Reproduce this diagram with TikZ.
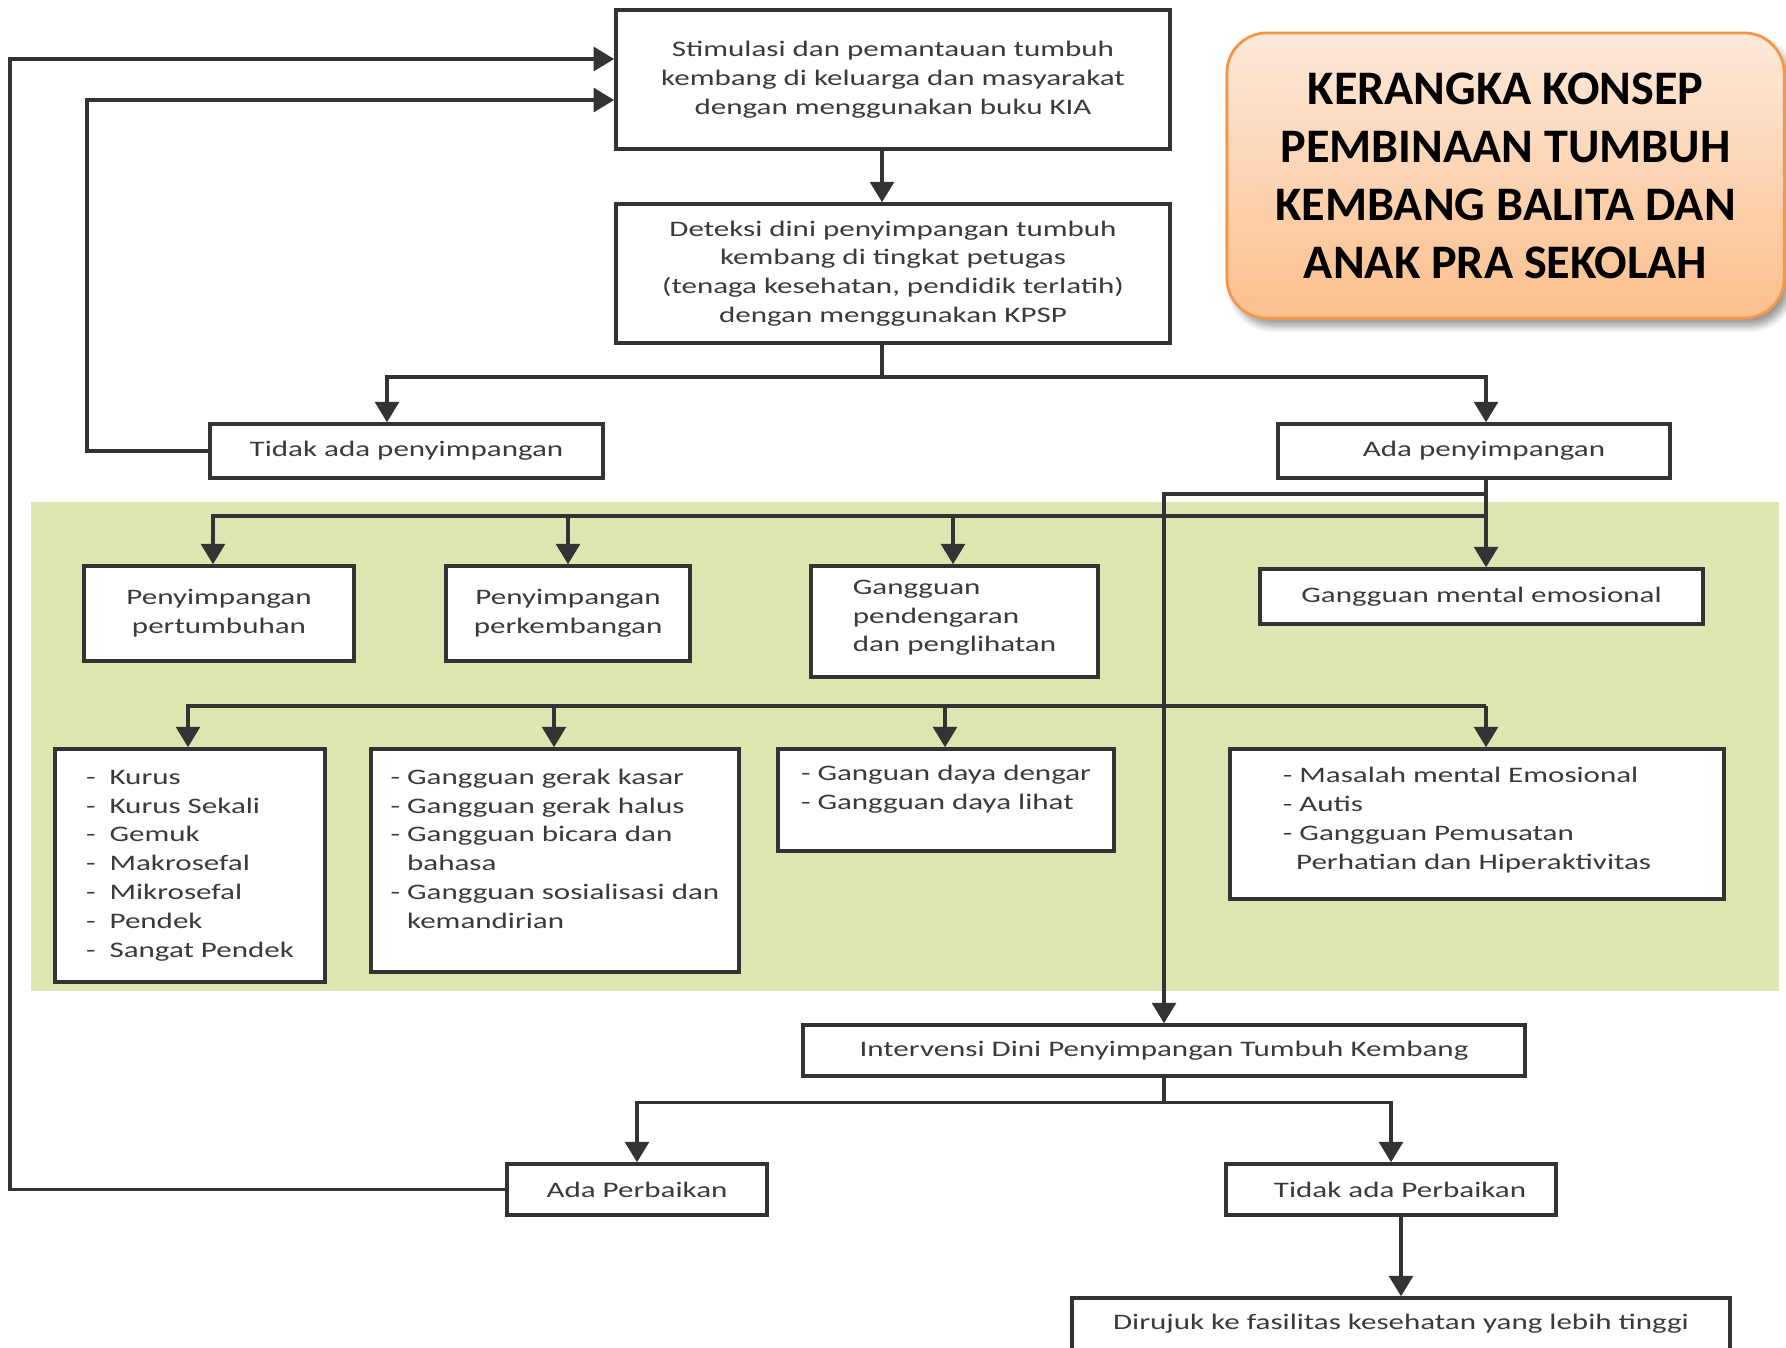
\documentclass[tikz,border=0pt]{standalone}
\usepackage{fontspec}
\setmainfont{Carlito}[FakeStretch=1.4]
\newfontfamily\judulfont{Carlito}
\usepackage{xcolor}
\usetikzlibrary{arrows.meta,shadows.blur}
\definecolor{garis}{HTML}{333333}
\definecolor{teks}{HTML}{3A3A3A}
\definecolor{hijau}{HTML}{DCE6B1}
\definecolor{oranye}{HTML}{F79646}
\definecolor{persikA}{HTML}{FDE9DA}
\definecolor{persikB}{HTML}{FBBF8C}
\newcommand{\isi}{\fontsize{6.3}{8.2}\selectfont}
\newcommand{\angkat}[1]{\rule[-#1]{0pt}{#1}}
\tikzset{
  kotak/.style={draw=garis, line width=1pt, fill=white, inner sep=0pt, text=teks, align=center, font=\isi},
  daftar/.style={kotak, align=left},
  garisan/.style={draw=garis, line width=0.9pt},
  panah/.style={garisan, -{Triangle[width=6.8pt,length=5.8pt]}},
  judul/.style={draw=oranye, line width=0.8pt, rounded corners=0.4cm, top color=persikA, bottom color=persikB,
    blur shadow={shadow xshift=0.6mm, shadow yshift=-0.8mm, shadow blur steps=6},
    align=center, font=\judulfont\bfseries\fontsize{13.7}{16.5}\selectfont},
}

\begin{document}
\begin{tikzpicture}[x=0.01cm, y=-0.01cm]
  \useasboundingbox (0,0) rectangle (1786,1347);
  \fill[hijau] (31,502) rectangle (1779,991);

  \node[kotak, minimum width=5.54cm, minimum height=1.39cm] (stim) at (893,79.5)
    {Stimulasi dan pemantauan tumbuh\\kembang di keluarga dan masyarakat\\dengan menggunakan buku KIA};
  \node[kotak, minimum width=5.54cm, minimum height=1.39cm] (deteksi) at (893,273.5)
    {Deteksi dini penyimpangan tumbuh\\kembang di tingkat petugas\\(tenaga kesehatan, pendidik terlatih)\\dengan menggunakan KPSP};
  \node[kotak, minimum width=3.93cm, minimum height=0.54cm] (tidak) at (406.5,451) {Tidak ada penyimpangan};
  \node[kotak, minimum width=3.92cm, minimum height=0.54cm] (ada) at (1474,451) {\hspace*{0.2cm}Ada penyimpangan};

  \node[kotak, minimum width=2.70cm, minimum height=0.95cm] (pertumbuhan) at (219,613.5) {Penyimpangan\\pertumbuhan};
  \node[kotak, minimum width=2.44cm, minimum height=0.95cm] (perkembangan) at (568,613.5) {Penyimpangan\\perkembangan};
  \node[daftar, minimum width=2.87cm, minimum height=1.11cm] (dengar) at (954.5,621.5) {Gangguan\\pendengaran\\dan penglihatan\angkat{3.2pt}};
  \node[kotak, minimum width=4.43cm, minimum height=0.55cm] (mental) at (1481.5,596.5) {Gangguan mental emosional};

  \node[daftar, minimum width=2.70cm, minimum height=2.33cm] (kurus) at (190,865.5)
    {-~~Kurus\\-~~Kurus Sekali\\-~~Gemuk\\-~~Makrosefal\\-~~Mikrosefal\\-~~Pendek\\-~~Sangat Pendek};
  \node[daftar, minimum width=3.68cm, minimum height=2.23cm] (gerak) at (555,860.5)
    {- Gangguan gerak kasar\\- Gangguan gerak halus\\- Gangguan bicara dan\\\hphantom{-~}bahasa\\- Gangguan sosialisasi dan\\\hphantom{-~}kemandirian\angkat{6.8pt}};
  \node[daftar, minimum width=3.36cm, minimum height=1.02cm] (daya) at (946,800)
    {- Ganguan daya dengar\\- Gangguan daya lihat\angkat{7pt}};
  \node[daftar, minimum width=4.94cm, minimum height=1.50cm] (masalah) at (1477,824)
    {- Masalah mental Emosional\\- Autis\\- Gangguan Pemusatan\\\hphantom{-}\,Perhatian dan Hiperaktivitas\hspace{0.2cm}\angkat{3.4pt}};

  \node[kotak, minimum width=7.22cm, minimum height=0.51cm] (interv) at (1164,1050.5) {Intervensi Dini Penyimpangan Tumbuh Kembang};
  \node[kotak, minimum width=2.60cm, minimum height=0.51cm] (adap) at (637,1189.5) {Ada Perbaikan};
  \node[kotak, minimum width=3.30cm, minimum height=0.51cm] (tidakp) at (1391,1189.5) {\hspace*{0.18cm}Tidak ada Perbaikan};
  \node[kotak, minimum width=6.58cm, minimum height=0.52cm] (dirujuk) at (1401,1324) {Dirujuk ke fasilitas kesehatan yang lebih tinggi};

  \node[judul, minimum width=5.57cm, minimum height=2.85cm] (kepala) at (1505.5,175.5)
    {KERANGKA KONSEP\\PEMBINAAN TUMBUH\\KEMBANG BALITA DAN\\ANAK PRA SEKOLAH};

  \draw[panah] (stim.south -| 882,0) -- (deteksi.north -| 882,0);
  \draw[garisan] (deteksi.south -| 882,0) -- (882,377) coordinate (pisah);
  \draw[panah] (pisah) -| (tidak.north -| 387,0);
  \draw[panah] (pisah) -| (ada.north -| 1486,0);
  \draw[panah] (tidak.west) -| (87,100) -- (stim.west |- 0,100);
  \draw[panah] (adap.west) -| (10,59) -- (stim.west |- 0,59);

  \draw[panah] (ada.south -| 1486,0) -- (1486,494) -| (interv.north);
  \draw[panah] (ada.south -| 1486,0) -- (mental.north -| 1486,0);
  \coordinate (cabang) at (1486,516);
  \draw[panah] (cabang) -| (pertumbuhan.north -| 213,0);
  \draw[panah] (cabang) -| (perkembangan.north -| 568,0);
  \draw[panah] (cabang) -| (dengar.north -| 953,0);

  \coordinate (cabang2) at (1486,706);
  \draw[panah] (cabang2) -| (kurus.north -| 188,0);
  \draw[panah] (cabang2) -| (gerak.north -| 554,0);
  \draw[panah] (cabang2) -| (daya.north -| 945,0);
  \draw[panah] (cabang2) -- (masalah.north -| 1486,0);

  \draw[garisan] (interv.south) -- ++(0,25) coordinate (cabang3);
  \draw[panah] (cabang3) -| (adap.north);
  \draw[panah] (cabang3) -| (tidakp.north);
  \draw[panah] (tidakp.south -| dirujuk.north) -- (dirujuk.north);
\end{tikzpicture}
\end{document}
